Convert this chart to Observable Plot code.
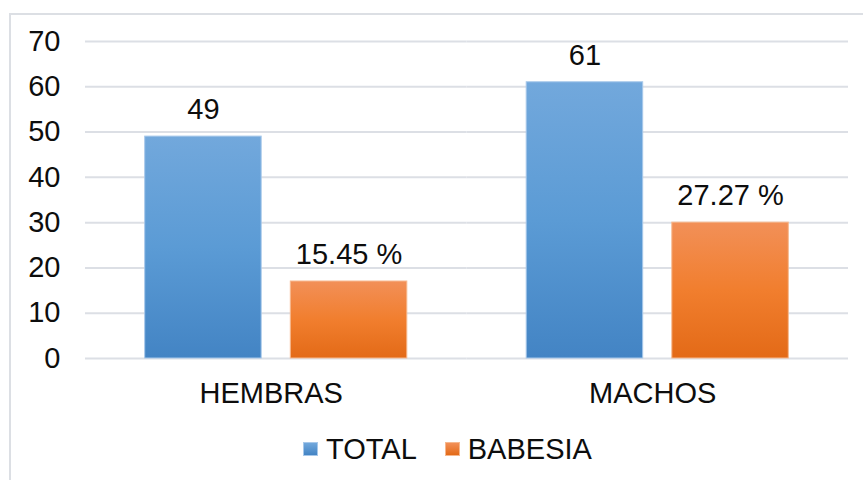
<!DOCTYPE html>
<html>
<head>
<meta charset="utf-8">
<script src="https://cdn.jsdelivr.net/npm/d3@7"></script>
<script src="https://cdn.jsdelivr.net/npm/@observablehq/plot@0.6"></script>
<style>
  html, body { margin: 0; padding: 0; background: #fff; }
  body { font-family: "Liberation Sans", Arial, sans-serif; }
  #wrap { position: relative; width: 863px; height: 480px; overflow: hidden; }
  #frame { position: absolute; left: 9px; top: 13px; width: 900px; height: 520px;
           border-left: 2px solid #dcdfe4; border-top: 2px solid #dcdfe4; box-sizing: border-box; }
  #chart { position: relative; }
  #legend { position: relative; display: flex; align-items: center; height: 36px;
            padding-left: 303px; font-size: 29px; color: #0d0d0d; margin-top: 1px; }
  #legend .item { display: flex; align-items: center; margin-right: 28px; }
  #legend .sw { width: 15px; height: 14px; margin-right: 8px; box-sizing: border-box; }
</style>
</head>
<body>
<div id="wrap">
  <div id="frame"></div>
  <div id="chart"></div>
  <div id="legend"></div>
</div>
<script>
// ---- data ----
const categories = ["HEMBRAS", "MACHOS"];
const series = ["TOTAL", "BABESIA"];
const totalValues = [49, 61];
const babesiaValues = [17, 30];
const totalLabels = ["49", "61"];
const babesiaLabels = ["15.45 %", "27.27 %"];
const yTicks = [0, 10, 20, 30, 40, 50, 60, 70];

// ---- styles ----
const gradients = {
  TOTAL:   { id: "gTotal",   stops: ["#72a8dc", "#5b9bd5", "#4384c4"], stroke: "#a7c8ea" },
  BABESIA: { id: "gBabesia", stops: ["#f29058", "#f17e2e", "#e36a17"], stroke: "#f6b88e" }
};

const totalRows = categories.map((c, i) => ({cat: c, series: "TOTAL", value: totalValues[i], label: totalLabels[i]}));
const babesiaRows = categories.map((c, i) => ({cat: c, series: "BABESIA", value: babesiaValues[i], label: babesiaLabels[i]}));
const allRows = totalRows.concat(babesiaRows);

const H = 430;
const fontFamily = "'Liberation Sans', Arial, sans-serif";
const textColor = "#0d0d0d";

const svg = Plot.plot({
  width: 863,
  height: H,
  marginLeft: 85,
  marginRight: 15,
  marginTop: 41,
  marginBottom: 72,
  style: { fontFamily, fontSize: "29px", color: textColor, background: "transparent" },
  fx: { domain: categories, padding: 0, round: false, label: null },
  x: { domain: series, paddingInner: 0.2, paddingOuter: 0.41, round: false, axis: null },
  y: { domain: [0, 70], axis: null },
  marks: [
    Plot.gridY({ ticks: yTicks, stroke: "#dcdfe5", strokeOpacity: 1, strokeWidth: 2 }),
    Plot.axisY({ ticks: yTicks, tickSize: 0, tickPadding: 25, fontSize: 29, fill: textColor, label: null }),
    Plot.axisFx({ anchor: "bottom", tickSize: 0, tickPadding: 24, dx: -5, fontSize: 29, fill: textColor, label: null }),
    Plot.barY(totalRows, { fx: "cat", x: "series", y: "value",
      fill: `url(#${gradients.TOTAL.id})`, stroke: gradients.TOTAL.stroke, strokeWidth: 1 }),
    Plot.barY(babesiaRows, { fx: "cat", x: "series", y: "value",
      fill: `url(#${gradients.BABESIA.id})`, stroke: gradients.BABESIA.stroke, strokeWidth: 1 }),
    Plot.text(allRows, { fx: "cat", x: "series", y: "value", text: "label",
      dy: -27, fontSize: 29, fill: textColor })
  ]
});

// gradient definitions
const defs = d3.select(svg).insert("defs", ":first-child");
for (const s of series) {
  const g = gradients[s];
  const lg = defs.append("linearGradient").attr("id", g.id)
    .attr("x1", 0).attr("y1", 0).attr("x2", 0).attr("y2", 1);
  g.stops.forEach((c, i) => lg.append("stop")
    .attr("offset", `${(i / (g.stops.length - 1)) * 100}%`).attr("stop-color", c));
}

document.getElementById("chart").appendChild(svg);

// legend
const legend = d3.select("#legend");
for (const s of series) {
  const item = legend.append("div").attr("class", "item");
  item.append("div").attr("class", "sw")
    .style("background", `linear-gradient(${gradients[s].stops[0]}, ${gradients[s].stops[2]})`)
    .style("border", `1px solid ${gradients[s].stroke}`);
  item.append("span").text(s);
}
</script>
</body>
</html>
